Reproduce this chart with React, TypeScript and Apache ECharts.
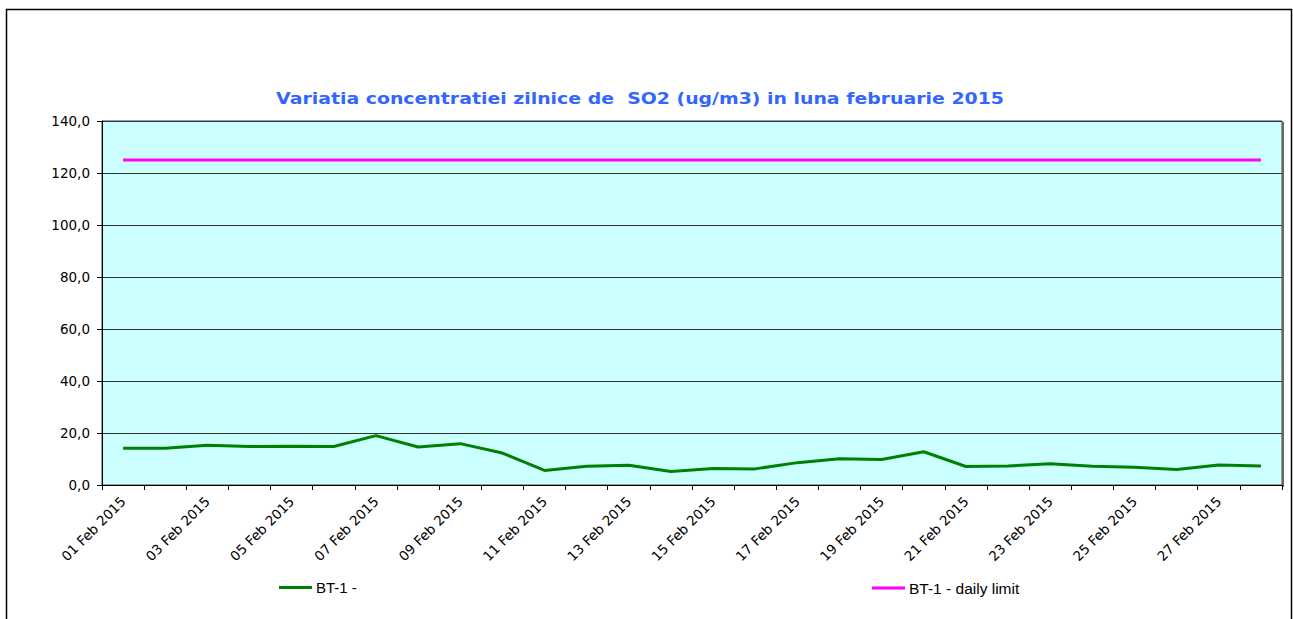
import React, { useEffect, useRef } from "react";
import * as echarts from "echarts";

const days: string[] = [
  "01 Feb 2015", "02 Feb 2015", "03 Feb 2015", "04 Feb 2015", "05 Feb 2015", "06 Feb 2015", "07 Feb 2015",
  "08 Feb 2015", "09 Feb 2015", "10 Feb 2015", "11 Feb 2015", "12 Feb 2015", "13 Feb 2015", "14 Feb 2015",
  "15 Feb 2015", "16 Feb 2015", "17 Feb 2015", "18 Feb 2015", "19 Feb 2015", "20 Feb 2015", "21 Feb 2015",
  "22 Feb 2015", "23 Feb 2015", "24 Feb 2015", "25 Feb 2015", "26 Feb 2015", "27 Feb 2015", "28 Feb 2015",
];

const bt1Values: number[] = [
  14.1, 14.1, 15.3, 14.8, 14.9, 14.8, 19.0, 14.6, 15.9, 12.3, 5.6, 7.2, 7.6, 5.2,
  6.3, 6.2, 8.6, 10.1, 9.8, 12.8, 7.1, 7.3, 8.2, 7.2, 6.8, 6.0, 7.7, 7.3,
];

const dailyLimit: number[] = days.map(() => 125);

const titleText = "Variatia concentratiei zilnice de  SO2 (ug/m3) in luna februarie 2015";
const seriesNames = ["BT-1 -", "BT-1 - daily limit"];

export default function App() {
  const ref = useRef<HTMLDivElement>(null);
  useEffect(() => {
    if (!ref.current) return;
    const chart = echarts.init(ref.current, null, { renderer: "svg" });
    chart.setOption({
      animation: false,
      backgroundColor: "#ffffff",
      graphic: [
        {
          type: "rect",
          shape: { x: 6.5, y: 9.5, width: 1285, height: 700 },
          style: { fill: "none", stroke: "#000", lineWidth: 1.5 },
          silent: true,
        },
        {
          type: "line",
          shape: { x1: 1283, y1: 122, x2: 1283, y2: 487 },
          style: { stroke: "#666", lineWidth: 2 },
          silent: true,
        },
        {
          type: "text",
          x: 640,
          y: 99,
          scaleX: 1.26,
          style: {
            text: titleText,
            fill: "#3366FF",
            font: "bold 15px 'DejaVu Sans'",
            textAlign: "center",
            textVerticalAlign: "middle",
          },
          silent: true,
        },
      ],
      legend: [
        {
          data: [seriesNames[0]],
          left: 274,
          top: 575,
          icon: "rect",
          itemWidth: 33,
          itemHeight: 3,
          textStyle: { fontFamily: "Liberation Sans", fontSize: 15, color: "#000", padding: [0, 0, 0, -1] },
        },
        {
          data: [seriesNames[1]],
          left: 867,
          top: 575,
          icon: "rect",
          itemWidth: 33,
          itemHeight: 3,
          textStyle: { fontFamily: "Liberation Sans", fontSize: 15.5, color: "#000", padding: [0, 0, 0, -1] },
        },
      ],
      grid: {
        left: 102,
        top: 121,
        right: 11,
        bottom: 134,
        show: true,
        backgroundColor: "#CCFFFF",
        borderColor: "#444",
        borderWidth: 1,
      },
      xAxis: {
        type: "category",
        data: days,
        boundaryGap: true,
        axisLine: { lineStyle: { color: "#000", width: 1 } },
        axisTick: { show: true, interval: 0, length: 5, lineStyle: { color: "#000" } },
        axisLabel: {
          interval: 1,
          rotate: 45,
          margin: 14,
          color: "#000",
          fontFamily: "DejaVu Sans",
          fontSize: 13.5,
        },
        splitLine: { show: false },
      },
      yAxis: {
        type: "value",
        min: 0,
        max: 140,
        interval: 20,
        axisLine: { show: true, lineStyle: { color: "#000", width: 1 } },
        axisTick: { show: true, length: 5, lineStyle: { color: "#000" } },
        axisLabel: {
          color: "#000",
          fontFamily: "DejaVu Sans",
          fontSize: 13.5,
          margin: 12,
          formatter: (v: number) => v.toFixed(1).replace(".", ","),
        },
        splitLine: { show: true, lineStyle: { color: "#333", width: 1 } },
      },
      series: [
        {
          name: seriesNames[0],
          type: "line",
          data: bt1Values,
          showSymbol: false,
          symbol: "none",
          lineStyle: { color: "#008000", width: 3 },
          itemStyle: { color: "#008000" },
        },
        {
          name: seriesNames[1],
          type: "line",
          data: dailyLimit,
          showSymbol: false,
          symbol: "none",
          lineStyle: { color: "#FF00FF", width: 3 },
          itemStyle: { color: "#FF00FF" },
        },
      ],
    });
    return () => chart.dispose();
  }, []);
  return (
    <div
      ref={ref}
      style={{ position: "fixed", left: 0, top: 0, width: 1293, height: 619 }}
    />
  );
}
